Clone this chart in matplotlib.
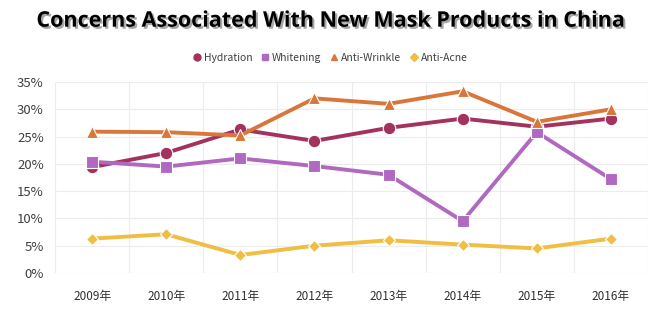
import numpy as np
import matplotlib.pyplot as plt
import matplotlib.patheffects as pe
from matplotlib.lines import Line2D

plt.rcParams['font.family'] = ['Noto Sans CJK SC', 'DejaVu Sans']

years = ['2009年', '2010年', '2011年', '2012年', '2013年', '2014年', '2015年', '2016年']
hydration = [19.4, 22.0, 26.3, 24.2, 26.6, 28.3, 26.8, 28.3]
whitening = [20.4, 19.5, 21.0, 19.6, 18.0, 9.5, 25.8, 17.2]
anti_wrinkle = [25.9, 25.8, 25.2, 32.0, 31.0, 33.3, 27.7, 30.0]
anti_acne = [6.3, 7.1, 3.3, 5.0, 6.0, 5.2, 4.5, 6.3]

x = np.arange(len(years))

fig = plt.figure(figsize=(6.61, 3.26), dpi=100)
ax = fig.add_axes([55/661, 53/326, 593/661, 191/326])

series = [
    ('Hydration', hydration, '#A3325F', 'o', 9),
    ('Whitening', whitening, '#B068C0', 's', 9),
    ('Anti-Wrinkle', anti_wrinkle, '#D9773A', '^', 9),
    ('Anti-Acne', anti_acne, '#EFBE42', 'D', 6),
]
handles = []
for name, vals, col, mk, ms in series:
    ax.plot(x, vals, color=col, lw=2.8, marker=mk, ms=ms,
            markeredgecolor='white', markeredgewidth=0.8)
    handles.append(Line2D([], [], ls='none', marker=mk, color=col,
                          ms=5 if mk != 'D' else 4, label=name))

ax.set_xlim(-0.5, len(years) - 0.5)
ax.set_ylim(0, 35)
ax.set_yticks(np.arange(0, 36, 5))
ax.set_yticklabels([f'{v}%' for v in range(0, 36, 5)], fontsize=9.5, color='#404040')
ax.set_xticks(x)
ax.set_xticklabels(years, fontsize=8.5, color='#303030')
ax.set_xticks(np.arange(-0.5, len(years), 1), minor=True)
ax.grid(True, which='major', axis='y', color='#ececec', lw=0.8)
ax.grid(True, which='minor', axis='x', color='#ececec', lw=0.8)
ax.tick_params(length=0, which='both', pad=8)
ax.tick_params(axis='x', pad=12)
for s in ax.spines.values():
    s.set_visible(False)
ax.set_axisbelow(True)

fig.text(0.5, 0.935, 'Concerns Associated With New Mask Products in China',
         ha='center', va='center', fontsize=15.5, fontweight='bold',
         family=['Open Sans', 'DejaVu Sans'],
         path_effects=[pe.withSimplePatchShadow(offset=(1.5, -1.5), alpha=0.35)])

fig.legend(handles=handles, loc='center', bbox_to_anchor=(0.5, 0.822), ncol=4,
           frameon=False, fontsize=7.5, handlelength=0.7, handletextpad=0.3,
           columnspacing=0.9, labelcolor='#404040')

fig.savefig('out.png', dpi=100)
